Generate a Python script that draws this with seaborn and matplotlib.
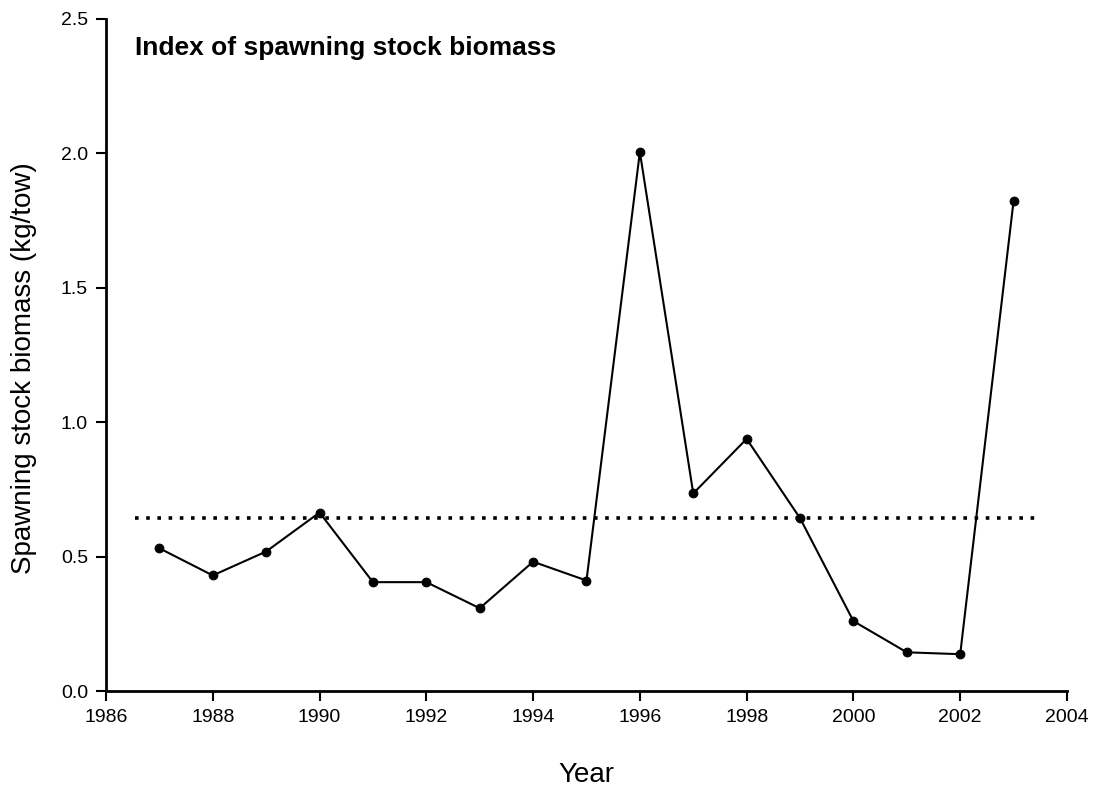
import matplotlib
matplotlib.use('Agg')
import matplotlib.pyplot as plt
import seaborn as sns
import pandas as pd

years = [1987, 1988, 1989, 1990, 1991, 1992, 1993, 1994, 1995,
         1996, 1997, 1998, 1999, 2000, 2001, 2002, 2003]
ssb = [0.531, 0.430, 0.519, 0.664, 0.405, 0.405, 0.308, 0.481, 0.411,
       2.005, 0.735, 0.938, 0.643, 0.260, 0.144, 0.137, 1.823]
ref_x = [1986.55, 2003.5]
ref_y = [0.645, 0.645]
x_ticks = list(range(1986, 2005, 2))
y_ticks = [0.0, 0.5, 1.0, 1.5, 2.0, 2.5]

sns.set_style('ticks')
plt.rcParams['font.family'] = ['Liberation Sans', 'DejaVu Sans']
plt.rcParams['text.color'] = 'black'
plt.rcParams['axes.labelcolor'] = 'black'

df = pd.DataFrame({'year': years, 'ssb': ssb})
df_ref = pd.DataFrame({'year': ref_x, 'ssb': ref_y})

fig = plt.figure(figsize=(10.95, 7.91), dpi=100)
ax = fig.add_axes([0.0968, 0.1264, 0.8776, 0.8496])

# dotted reference level
sns.lineplot(data=df_ref, x='year', y='ssb', ax=ax, color='black',
             linewidth=2.6, linestyle=(0, (1, 2.1)), dash_capstyle='butt')
sns.lineplot(data=df, x='year', y='ssb', ax=ax, color='black',
             linewidth=1.5, marker='o', markersize=6.3, markeredgecolor='black')

ax.set_xlim(1986, 2004)
ax.set_ylim(0, 2.5)
ax.set_xticks(x_ticks)
ax.set_yticks(y_ticks)
ax.set_yticklabels([f'{v:.1f}' for v in y_ticks])
ax.tick_params(axis='both', direction='out', length=7, width=1.5,
               labelsize=14, color='black', labelcolor='black', pad=6)
for s in ['left', 'bottom']:
    ax.spines[s].set_linewidth(2)
    ax.spines[s].set_color('black')
sns.despine(ax=ax)

ax.set_xlabel('Year', fontsize=20, labelpad=26)
ax.set_ylabel('Spawning stock biomass (kg/tow)', fontsize=20)
ax.yaxis.set_label_coords(-0.072, 0.48)
ax.text(0.03, 0.975, 'Index of spawning stock biomass', transform=ax.transAxes,
        fontsize=19, fontweight='bold', va='top', ha='left')

plt.savefig('out.png', dpi=100)
